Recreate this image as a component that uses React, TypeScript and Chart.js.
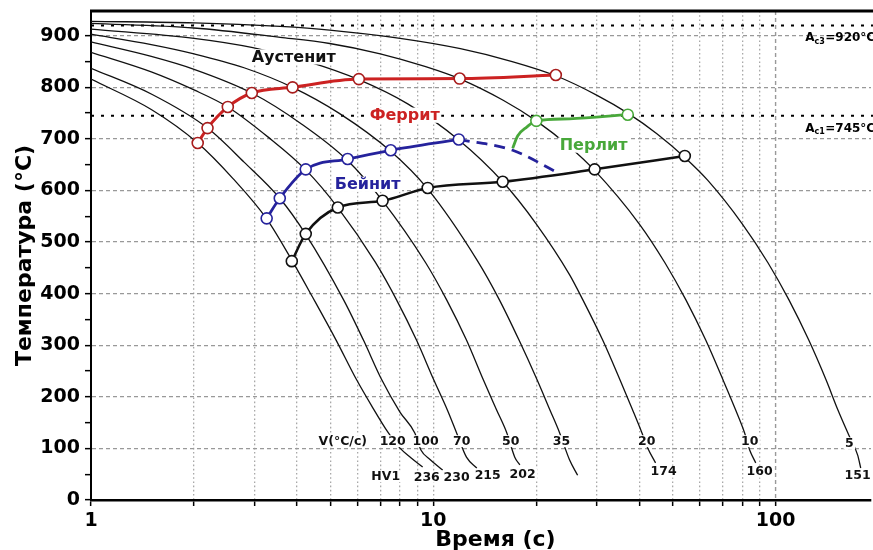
import React, { useEffect, useRef } from 'react';
import { Chart, registerables } from 'chart.js';

Chart.register(...registerables);

const FONT = '"DejaVu Sans", Verdana, sans-serif';

// ---- axes ----
const X_MIN = 1;
const X_MAX = 190;
const Y_MIN = 0;
const Y_MAX = 948;
const X_TICKS = [1, 2, 3, 4, 5, 6, 7, 8, 9, 10, 20, 30, 40, 50, 60, 70, 80, 90, 100];
const X_TICK_LABELS = [1, 10, 100];
const Y_TICKS = [0, 50, 100, 150, 200, 250, 300, 350, 400, 450, 500, 550, 600, 650, 700, 750, 800, 850, 900];

// ---- critical temperatures ----
const AC3 = 920;
const AC1 = 745;

// ---- cooling curves (time s, temperature °C) ----
const C120_TIME = [1.0, 1.5, 2.05, 2.6, 3.26, 3.86, 4.45, 5.2, 5.97, 6.6, 7.36, 7.98, 8.6, 9.31];
const C120_TEMP = [816, 757, 692, 623, 545, 465, 392, 310, 233, 183, 132, 101, 82, 64];
const C100_TIME = [1.0, 1.5, 2.19, 2.8, 3.56, 4.24, 5.47, 6.25, 7.07, 8.0, 8.83, 9.2, 9.8, 10.65];
const C100_TEMP = [837, 787, 721, 655, 585, 515, 388, 310, 233, 170, 130, 97, 78, 58];
const C70_TIME = [1.0, 1.5, 2.0, 2.51, 3.3, 4.24, 5.26, 6.77, 7.81, 8.93, 10.03, 11.0, 11.7, 12.5, 13.4];
const C70_TEMP = [868, 830, 795, 762, 703, 640, 567, 461, 388, 310, 233, 174, 130, 83, 62];
const C50_TIME = [1.0, 1.5, 2.0, 2.95, 4.1, 5.62, 7.11, 9.5, 10.94, 12.5, 14.0, 15.3, 16.4, 17.3, 17.9];
const C50_TEMP = [888, 860, 835, 789, 730, 658, 580, 460, 388, 310, 233, 175, 130, 83, 68];
const C35_TIME = [1.0, 1.5, 2.0, 2.8, 3.88, 5.3, 7.51, 9.63, 13.45, 15.6, 17.8, 20.1, 21.9, 23.4, 25.0, 26.4];
const C35_TEMP = [903, 883, 865, 838, 800, 750, 676, 603, 464, 388, 310, 233, 175, 130, 78, 48];
const C20_TIME = [1.0, 2.0, 2.97, 4.3, 6.06, 8.42, 11.87, 15.95, 20.0, 25.0, 27.35, 31.25, 35.1, 38.2, 40.6, 42.3, 44.6];
const C20_TEMP = [913, 895, 877, 850, 815, 768, 698, 617, 535, 437, 388, 310, 233, 175, 132, 101, 72];
const C10_TIME = [1.0, 2.0, 3.57, 4.98, 7.0, 9.5, 12.0, 16.0, 20.0, 25.0, 29.6, 40.0, 47.5, 54.7, 62.5, 70.2, 76.4, 81.2, 84.0, 87.5];
const C10_TEMP = [924, 915, 897, 885, 865, 840, 816, 775, 735, 685, 639, 535, 460, 388, 310, 233, 175, 130, 97, 72];
const C5_TIME = [1.0, 2.0, 3.57, 4.98, 8.0, 12.0, 17.0, 22.9, 30.0, 37.0, 45.0, 54.3, 63.3, 80.0, 95.0, 109.4, 125.0, 140.4, 152.0, 163.6, 173.7, 177.3];
const C5_TEMP = [928, 925, 918, 911, 895, 875, 850, 822, 785, 750, 710, 664, 620, 535, 460, 388, 310, 233, 175, 126, 87, 62];

// ---- transformation lines ----
const FERRITE_TIME = [2.05, 2.19, 2.51, 2.95, 3.88, 6.06, 11.94, 22.8];
const FERRITE_TEMP = [692, 721, 762, 789, 800, 816, 817, 824];
const BAINITE_TIME = [3.26, 3.56, 4.24, 5.62, 7.51, 11.87];
const BAINITE_TEMP = [546, 585, 641, 661, 678, 699];
const BAINITE_DASH_TIME = [11.87, 17.06, 22.9];
const BAINITE_DASH_TEMP = [699, 678, 636];
const PEARLITE_TIME = [17.06, 17.65, 18.75, 20.0, 25.0, 37.0];
const PEARLITE_TEMP = [682, 706, 723, 735, 739, 747];
const PEARLITE_MARK = [0, 0, 0, 1, 0, 1];
const FINISH_TIME = [3.86, 4.24, 5.26, 7.11, 9.63, 15.95, 29.6, 54.3];
const FINISH_TEMP = [463, 516, 567, 580, 605, 617, 641, 667];

// ---- text labels ----
const RATE_TEXT = ['V(°C/c)', '120', '100', '70', '50', '35', '20', '10', '5'];
const RATE_TIME = [5.44, 7.61, 9.5, 12.1, 16.83, 23.7, 42.0, 84.0, 164.3];
const RATE_TEMP = [114, 114, 114, 114, 114, 114, 114, 114, 110];
const HV_TEXT = ['HV1', '236', '230', '215', '202', '174', '160', '151'];
const HV_TIME = [7.26, 9.57, 11.7, 14.42, 18.24, 47.1, 89.8, 173.7];
const HV_TEMP = [46, 45, 45, 48, 50, 55, 55, 48];
const REGION_TEXT = ['Аустенит', 'Феррит', 'Бейнит', 'Перлит'];
const REGION_TIME = [3.91, 8.25, 6.43, 29.4];
const REGION_TEMP = [859, 746, 612, 688];

const RED = '#cc2222';
const BLUE = '#25229c';
const GREEN = '#48a83a';

const pts = (t: number[], v: number[]) => t.map((x, i) => ({ x, y: v[i] }));

const COOLING = [
  [C120_TIME, C120_TEMP], [C100_TIME, C100_TEMP], [C70_TIME, C70_TEMP], [C50_TIME, C50_TEMP],
  [C35_TIME, C35_TEMP], [C20_TIME, C20_TEMP], [C10_TIME, C10_TEMP], [C5_TIME, C5_TEMP],
];

function drawBoxedText(ctx: CanvasRenderingContext2D, text: string, x: number, y: number, size: number, color: string) {
  ctx.font = `bold ${size}px ${FONT}`;
  const w = ctx.measureText(text).width;
  const h = size * 0.95;
  ctx.fillStyle = '#fff';
  ctx.fillRect(x - w / 2 - 1.5, y - h / 2, w + 3, h);
  ctx.fillStyle = color;
  ctx.textAlign = 'center';
  ctx.textBaseline = 'middle';
  ctx.fillText(text, x, y + 0.5);
}

function drawAc(ctx: CanvasRenderingContext2D, sub: string, rest: string, x: number, base: number) {
  ctx.textAlign = 'left';
  ctx.textBaseline = 'alphabetic';
  ctx.fillStyle = '#000';
  ctx.font = `bold 12px ${FONT}`;
  ctx.fillText('A', x, base);
  let cx = x + ctx.measureText('A').width;
  ctx.font = `bold 8px ${FONT}`;
  ctx.fillText(sub, cx, base + 2.5);
  cx += ctx.measureText(sub).width + 0.5;
  ctx.font = `bold 12px ${FONT}`;
  ctx.fillText(rest, cx, base);
}

const overlay = {
  id: 'overlay',
  beforeDatasetsDraw(chart: any) {
    const { ctx, chartArea: a, scales } = chart;
    const x = scales.x;
    const y = scales.y;
    ctx.save();
    const p100 = x.getPixelForValue(100);
    ctx.strokeStyle = '#999';
    ctx.lineWidth = 1.4;
    ctx.setLineDash([4, 3]);
    ctx.beginPath();
    ctx.moveTo(p100, a.top);
    ctx.lineTo(p100, a.bottom);
    ctx.stroke();
    ctx.strokeStyle = '#000';
    ctx.lineWidth = 2;
    ctx.setLineDash([3, 7]);
    for (const v of [AC3, AC1]) {
      const py = y.getPixelForValue(v);
      ctx.beginPath();
      ctx.moveTo(a.left, py);
      ctx.lineTo(a.right + 2, py);
      ctx.stroke();
    }
    ctx.restore();
  },
  afterDatasetsDraw(chart: any) {
    const { ctx, chartArea: a, scales } = chart;
    const x = scales.x;
    const y = scales.y;
    ctx.save();
    const regionColors = ['#111', RED, BLUE, GREEN];
    REGION_TEXT.forEach((t, i) => {
      drawBoxedText(ctx, t, x.getPixelForValue(REGION_TIME[i]), y.getPixelForValue(REGION_TEMP[i]), 16, regionColors[i]);
    });
    RATE_TEXT.forEach((t, i) => {
      drawBoxedText(ctx, t, x.getPixelForValue(RATE_TIME[i]), y.getPixelForValue(RATE_TEMP[i]), 12.5, '#111');
    });
    HV_TEXT.forEach((t, i) => {
      drawBoxedText(ctx, t, x.getPixelForValue(HV_TIME[i]), y.getPixelForValue(HV_TEMP[i]), 12.5, '#111');
    });
    const ax = x.getPixelForValue(122);
    drawAc(ctx, 'c3', `=${AC3}°C`, ax, y.getPixelForValue(AC3) + 16);
    drawAc(ctx, 'c1', `=${AC1}°C`, ax, y.getPixelForValue(AC1) + 16);
    ctx.strokeStyle = '#000';
    ctx.lineWidth = 3;
    ctx.setLineDash([]);
    ctx.beginPath();
    ctx.moveTo(a.left - 1, a.top);
    ctx.lineTo(a.right + 2, a.top);
    ctx.stroke();
    ctx.restore();
  },
  afterDraw(chart: any) {
    const { ctx, chartArea: a, scales } = chart;
    ctx.save();
    ctx.fillStyle = '#000';
    ctx.font = `bold 22px ${FONT}`;
    ctx.translate(25, (a.top + a.bottom) / 2);
    ctx.rotate(-Math.PI / 2);
    ctx.textAlign = 'center';
    ctx.textBaseline = 'middle';
    ctx.fillText('Температура (°C)', 0, 0);
    ctx.restore();
    ctx.save();
    ctx.fillStyle = '#000';
    ctx.font = `bold 22px ${FONT}`;
    ctx.textAlign = 'left';
    ctx.textBaseline = 'alphabetic';
    ctx.fillText('Время (с)', scales.x.getPixelForValue(10) + 2, 546);
    ctx.restore();
  },
};

export default function App() {
  const ref = useRef<HTMLCanvasElement | null>(null);
  useEffect(() => {
    if (!ref.current) return;
    const coolingSets = COOLING.map(([t, v]) => ({
      data: pts(t, v),
      borderColor: '#111',
      borderWidth: 1.3,
      pointRadius: 0,
      cubicInterpolationMode: 'monotone' as const,
      fill: false,
      order: 2,
    }));
    const chart = new Chart(ref.current, {
      type: 'line',
      data: {
        datasets: [
          {
            data: pts(FERRITE_TIME, FERRITE_TEMP),
            borderColor: RED, borderWidth: 3,
            pointRadius: 5.5, pointBackgroundColor: '#fff', pointBorderColor: '#a81c1c', pointBorderWidth: 1.6,
            cubicInterpolationMode: 'monotone', order: 0,
          },
          {
            data: pts(BAINITE_TIME, BAINITE_TEMP),
            borderColor: BLUE, borderWidth: 2.8,
            pointRadius: 5.5, pointBackgroundColor: '#fff', pointBorderColor: BLUE, pointBorderWidth: 1.6,
            cubicInterpolationMode: 'monotone', order: 0,
          },
          {
            data: pts(BAINITE_DASH_TIME, BAINITE_DASH_TEMP),
            borderColor: BLUE, borderWidth: 2.8, borderDash: [11, 7],
            pointRadius: 0,
            cubicInterpolationMode: 'monotone', order: 1,
          },
          {
            data: pts(PEARLITE_TIME, PEARLITE_TEMP),
            borderColor: GREEN, borderWidth: 2.8,
            pointRadius: PEARLITE_MARK.map((m) => (m ? 5.5 : 0)),
            pointBackgroundColor: '#fff', pointBorderColor: GREEN, pointBorderWidth: 1.6,
            cubicInterpolationMode: 'monotone', order: 0,
          },
          {
            data: pts(FINISH_TIME, FINISH_TEMP),
            borderColor: '#111', borderWidth: 2.5,
            pointRadius: 5.5, pointBackgroundColor: '#fff', pointBorderColor: '#111', pointBorderWidth: 1.6,
            cubicInterpolationMode: 'monotone', order: 0,
          },
          ...coolingSets,
        ] as any,
      },
      options: {
        responsive: false,
        animation: false,
        devicePixelRatio: 1,
        layout: { autoPadding: false, padding: { left: 0, right: 2, top: 11, bottom: 0 } },
        plugins: { legend: { display: false }, tooltip: { enabled: false } },
        scales: {
          x: {
            type: 'logarithmic',
            min: X_MIN,
            max: X_MAX,
            afterBuildTicks: (s: any) => { s.ticks = X_TICKS.map((v) => ({ value: v })); },
            afterFit: (s: any) => { s.height = 50; s.paddingLeft = 0; s.paddingRight = 0; },
            ticks: {
              autoSkip: false,
              maxRotation: 0,
              padding: 4,
              color: '#000',
              font: { family: FONT, size: 19, weight: 'bold' },
              callback: (v: any) => (X_TICK_LABELS.includes(Number(v)) ? String(v) : ''),
            },
            grid: {
              color: (c: any) => (c.tick && (c.tick.value === 1 || c.tick.value === 100) ? 'rgba(0,0,0,0)' : '#a8a8a8'),
              lineWidth: 1.3,
              drawTicks: true,
              tickLength: 6,
              tickColor: '#000',
              tickWidth: 1.5,
            },
            border: { color: '#000', width: 2.5, dash: [1.6, 2.6] },
          },
          y: {
            type: 'linear',
            min: Y_MIN,
            max: Y_MAX,
            afterBuildTicks: (s: any) => { s.ticks = Y_TICKS.map((v) => ({ value: v })); },
            afterFit: (s: any) => { s.width = 91; s.paddingTop = 0; s.paddingBottom = 0; },
            ticks: {
              autoSkip: false,
              padding: 5,
              color: '#000',
              font: { family: FONT, size: 19, weight: 'bold' },
              callback: (v: any) => (Number(v) % 100 === 0 ? String(v) : ''),
            },
            grid: {
              color: (c: any) => (c.tick && c.tick.value % 100 === 0 && c.tick.value > 0 ? '#999' : 'rgba(0,0,0,0)'),
              lineWidth: 1.3,
              drawTicks: true,
              tickLength: 6,
              tickColor: '#000',
              tickWidth: 1.5,
            },
            border: { color: '#000', width: 2, dash: [4, 3] },
          },
        },
      } as any,
      plugins: [overlay as any],
    });
    return () => chart.destroy();
  }, []);
  return (
    <div style={{ position: 'absolute', left: 0, top: 0, width: 873, height: 550, background: '#fff' }}>
      <canvas ref={ref} width={873} height={550} style={{ display: 'block' }} />
    </div>
  );
}
